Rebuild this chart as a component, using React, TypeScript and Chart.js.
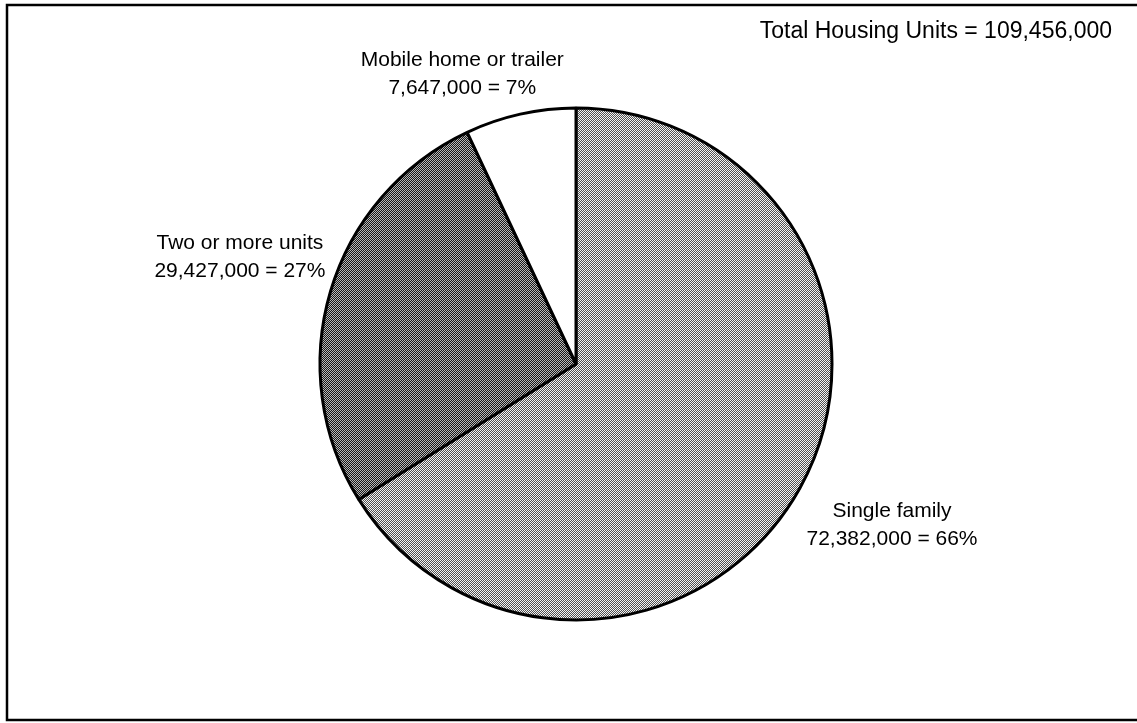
import React, { useEffect, useRef } from "react";
import { Chart, registerables } from "chart.js";

Chart.register(...registerables);

// ---- data ----
const categories = ["Single family", "Two or more units", "Mobile home or trailer"];
const housingUnits = [72382000, 29427000, 7647000];
const totalLabel = "Total Housing Units";

// ---- styling ----
const FAMILY = "'Liberation Sans', Arial, Helvetica, sans-serif";
const FONT = `21px ${FAMILY}`;
const TOTAL_FONT = `23px ${FAMILY}`;
// [radial factor, dx, dy] for each slice label
const labelPlacement: [number, number, number][] = [
  [1.385, 6, -11],
  [1.377, 2, -7],
  [1.215, -46, 14],
];

function makePattern(base: string, dot: string): CanvasPattern | string {
  const c = document.createElement("canvas");
  c.width = 2;
  c.height = 2;
  const g = c.getContext("2d");
  if (!g) return base;
  g.fillStyle = base;
  g.fillRect(0, 0, 2, 2);
  g.fillStyle = dot;
  g.fillRect(0, 0, 1, 1);
  g.fillRect(1, 1, 1, 1);
  return g.createPattern(c, "repeat") || base;
}

const fmt = (n: number) => n.toLocaleString("en-US");

export default function App() {
  const ref = useRef<HTMLCanvasElement | null>(null);

  useEffect(() => {
    const canvas = ref.current;
    if (!canvas) return;
    const total = housingUnits.reduce((a, b) => a + b, 0);

    const labelPlugin = {
      id: "housingLabels",
      beforeDraw(chart: any) {
        const ctx = chart.ctx;
        ctx.save();
        ctx.fillStyle = "#ffffff";
        ctx.fillRect(0, 0, chart.width, chart.height);
        ctx.strokeStyle = "#000000";
        ctx.lineWidth = 2.5;
        ctx.beginPath();
        ctx.moveTo(1140, 5);
        ctx.lineTo(7, 5);
        ctx.lineTo(7, 720);
        ctx.lineTo(1140, 720);
        ctx.stroke();
        ctx.restore();
      },
      afterDraw(chart: any) {
        const ctx = chart.ctx;
        const meta = chart.getDatasetMeta(0);
        ctx.save();
        ctx.font = FONT;
        ctx.fillStyle = "#000000";
        ctx.textAlign = "center";
        ctx.textBaseline = "middle";
        meta.data.forEach((arc: any, i: number) => {
          const p = arc.getProps(["x", "y", "startAngle", "endAngle", "outerRadius"], true);
          const mid = (p.startAngle + p.endAngle) / 2;
          const [f, dx, dy] = labelPlacement[i];
          const lx = p.x + Math.cos(mid) * p.outerRadius * f + dx;
          const ly = p.y + Math.sin(mid) * p.outerRadius * f + dy;
          const pct = Math.round((housingUnits[i] / total) * 100);
          ctx.fillText(categories[i], lx, ly - 14);
          ctx.fillText(`${fmt(housingUnits[i])} = ${pct}%`, lx, ly + 14);
        });
        ctx.font = TOTAL_FONT;
        ctx.textAlign = "right";
        ctx.textBaseline = "alphabetic";
        ctx.fillText(`${totalLabel} = ${fmt(total)}`, 1112, 38);
        ctx.restore();
      },
    };

    const chart = new Chart(canvas, {
      type: "pie",
      data: {
        labels: categories,
        datasets: [
          {
            data: housingUnits,
            backgroundColor: [
              makePattern("#505050", "#f4f4f4"),
              makePattern("#181818", "#b8b8b8"),
              "#ffffff",
            ],
            borderColor: "#000000",
            borderWidth: 3,
            hoverOffset: 0,
          },
        ],
      },
      options: {
        animation: false,
        responsive: false,
        maintainAspectRatio: false,
        events: [],
        radius: 256,
        layout: { padding: { left: 320, right: 305, top: 108, bottom: 103 } },
        plugins: {
          legend: { display: false },
          tooltip: { enabled: false },
          title: { display: false },
        },
      } as any,
      plugins: [labelPlugin],
    });

    return () => chart.destroy();
  }, []);

  return (
    <div style={{ position: "fixed", left: 0, top: 0, width: 1137, height: 723, background: "#fff" }}>
      <canvas ref={ref} width={1137} height={723} style={{ display: "block", width: 1137, height: 723 }} />
    </div>
  );
}
